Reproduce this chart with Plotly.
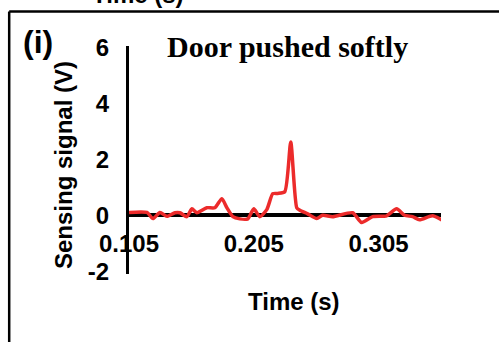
import plotly.graph_objects as go

# ---- data ----
time_s = [0.105, 0.1194, 0.1242, 0.1298, 0.1354, 0.1418, 0.1458, 0.1514, 0.1554, 0.1594,
          0.1674, 0.1738, 0.1794, 0.1834, 0.1882, 0.1938, 0.2002, 0.2050, 0.2098, 0.2154,
          0.2202, 0.2242, 0.2298, 0.2346, 0.2394, 0.2418, 0.2482, 0.2554, 0.2602, 0.2682,
          0.2842, 0.2914, 0.3002, 0.3114, 0.3194, 0.3258, 0.3322, 0.3378, 0.3482, 0.3562]
signal_v = [0.10, 0.10, -0.12, 0.10, -0.04, 0.09, 0.09, -0.05, 0.23, 0.09,
            0.27, 0.27, 0.59, 0.27, -0.05, -0.13, -0.13, 0.23, -0.05, 0.20,
            0.77, 0.78, 0.84, 2.62, 0.27, 0.18, 0.05, -0.12, 0.00, -0.05,
            0.09, -0.26, -0.05, -0.02, 0.23, 0.00, -0.05, -0.16, -0.02, -0.18]

x_tickvals = [0.105, 0.205, 0.305]
x_ticktext = ["0.105", "0.205", "0.305"]
y_tickvals = [-2, 0, 2, 4, 6]
y_ticktext = ["-2", "0", "2", "4", "6"]

title_text = "Door pushed softly"
panel_label = "(i)"
x_title = "Time (s)"
y_title = "Sensing signal (V)"

# ---- layout geometry (pixels) ----
W, H = 499, 342
L, R, T, B = 129, 57.5, 45.6, 67.5
pw, ph = W - L - R, H - T - B
x_range = [0.105, 0.355]
y_range = [-2.1, 6.05]

def px(x):
    return (x - L) / pw

def py(y):
    return (H - B - y) / ph

fig = go.Figure()
fig.add_trace(go.Scatter(
    x=time_s, y=signal_v, mode="lines",
    line=dict(color="#EC2B2B", width=3.5, shape="spline", smoothing=0.6),
    showlegend=False, hoverinfo="skip"))

tick_font = dict(family="Liberation Sans, Arial", size=24, color="black", weight="bold")

fig.update_layout(
    width=W, height=H,
    margin=dict(l=L, r=R, t=T, b=B, pad=0),
    paper_bgcolor="white", plot_bgcolor="white",
    xaxis=dict(range=x_range, tickvals=x_tickvals, ticktext=x_ticktext,
               showgrid=False, zeroline=False, showline=True, linecolor="black",
               linewidth=4, ticks="", tickfont=tick_font, anchor="free",
               position=(0 - y_range[0]) / (y_range[1] - y_range[0]),
               ticklabelstandoff=6, layer="below traces"),
    yaxis=dict(range=y_range, tickvals=y_tickvals, ticktext=y_ticktext,
               showgrid=False, zeroline=False, showline=True, linecolor="black",
               linewidth=3, ticks="", tickfont=tick_font, ticklabelstandoff=12,
               layer="below traces"),
    font=dict(family="Liberation Sans, Arial", color="black"),
)

ann = [
    dict(text="<b>" + title_text + "</b>", x=px(165), y=py(46.5), xanchor="left", yanchor="middle",
         font=dict(family="Liberation Serif, Times New Roman", size=30, color="black")),
    dict(text="<b>" + panel_label + "</b>", x=px(37.5), y=py(42), xanchor="center", yanchor="middle",
         font=dict(family="Liberation Sans, Arial", size=32, color="black")),
    dict(text="<b>" + x_title + "</b>", x=px(294), y=py(302), xanchor="center", yanchor="middle",
         font=dict(family="Liberation Sans, Arial", size=24, color="black")),
    dict(text="<b>" + y_title + "</b>", x=px(64), y=py(165), xanchor="center", yanchor="middle",
         textangle=-90, font=dict(family="Liberation Sans, Arial", size=24, color="black")),
    dict(text="<b>" + x_title + "</b>", x=px(138), y=py(9), xanchor="center", yanchor="bottom",
         font=dict(family="Liberation Sans, Arial", size=24, color="black")),
]
for a in ann:
    a.update(xref="paper", yref="paper", showarrow=False)
fig.update_layout(annotations=ann)

# panel frame (left and top edges visible)
fig.add_shape(type="line", xref="paper", yref="paper", x0=px(9), x1=px(9), y0=py(11), y1=py(360),
              line=dict(color="black", width=2.5))
fig.add_shape(type="line", xref="paper", yref="paper", x0=px(9), x1=px(520), y0=py(11), y1=py(11),
              line=dict(color="black", width=2.5))

fig.write_html("out.html", config={"displayModeBar": False},
               post_script="document.body.style.margin='0';document.body.style.padding='0';")
